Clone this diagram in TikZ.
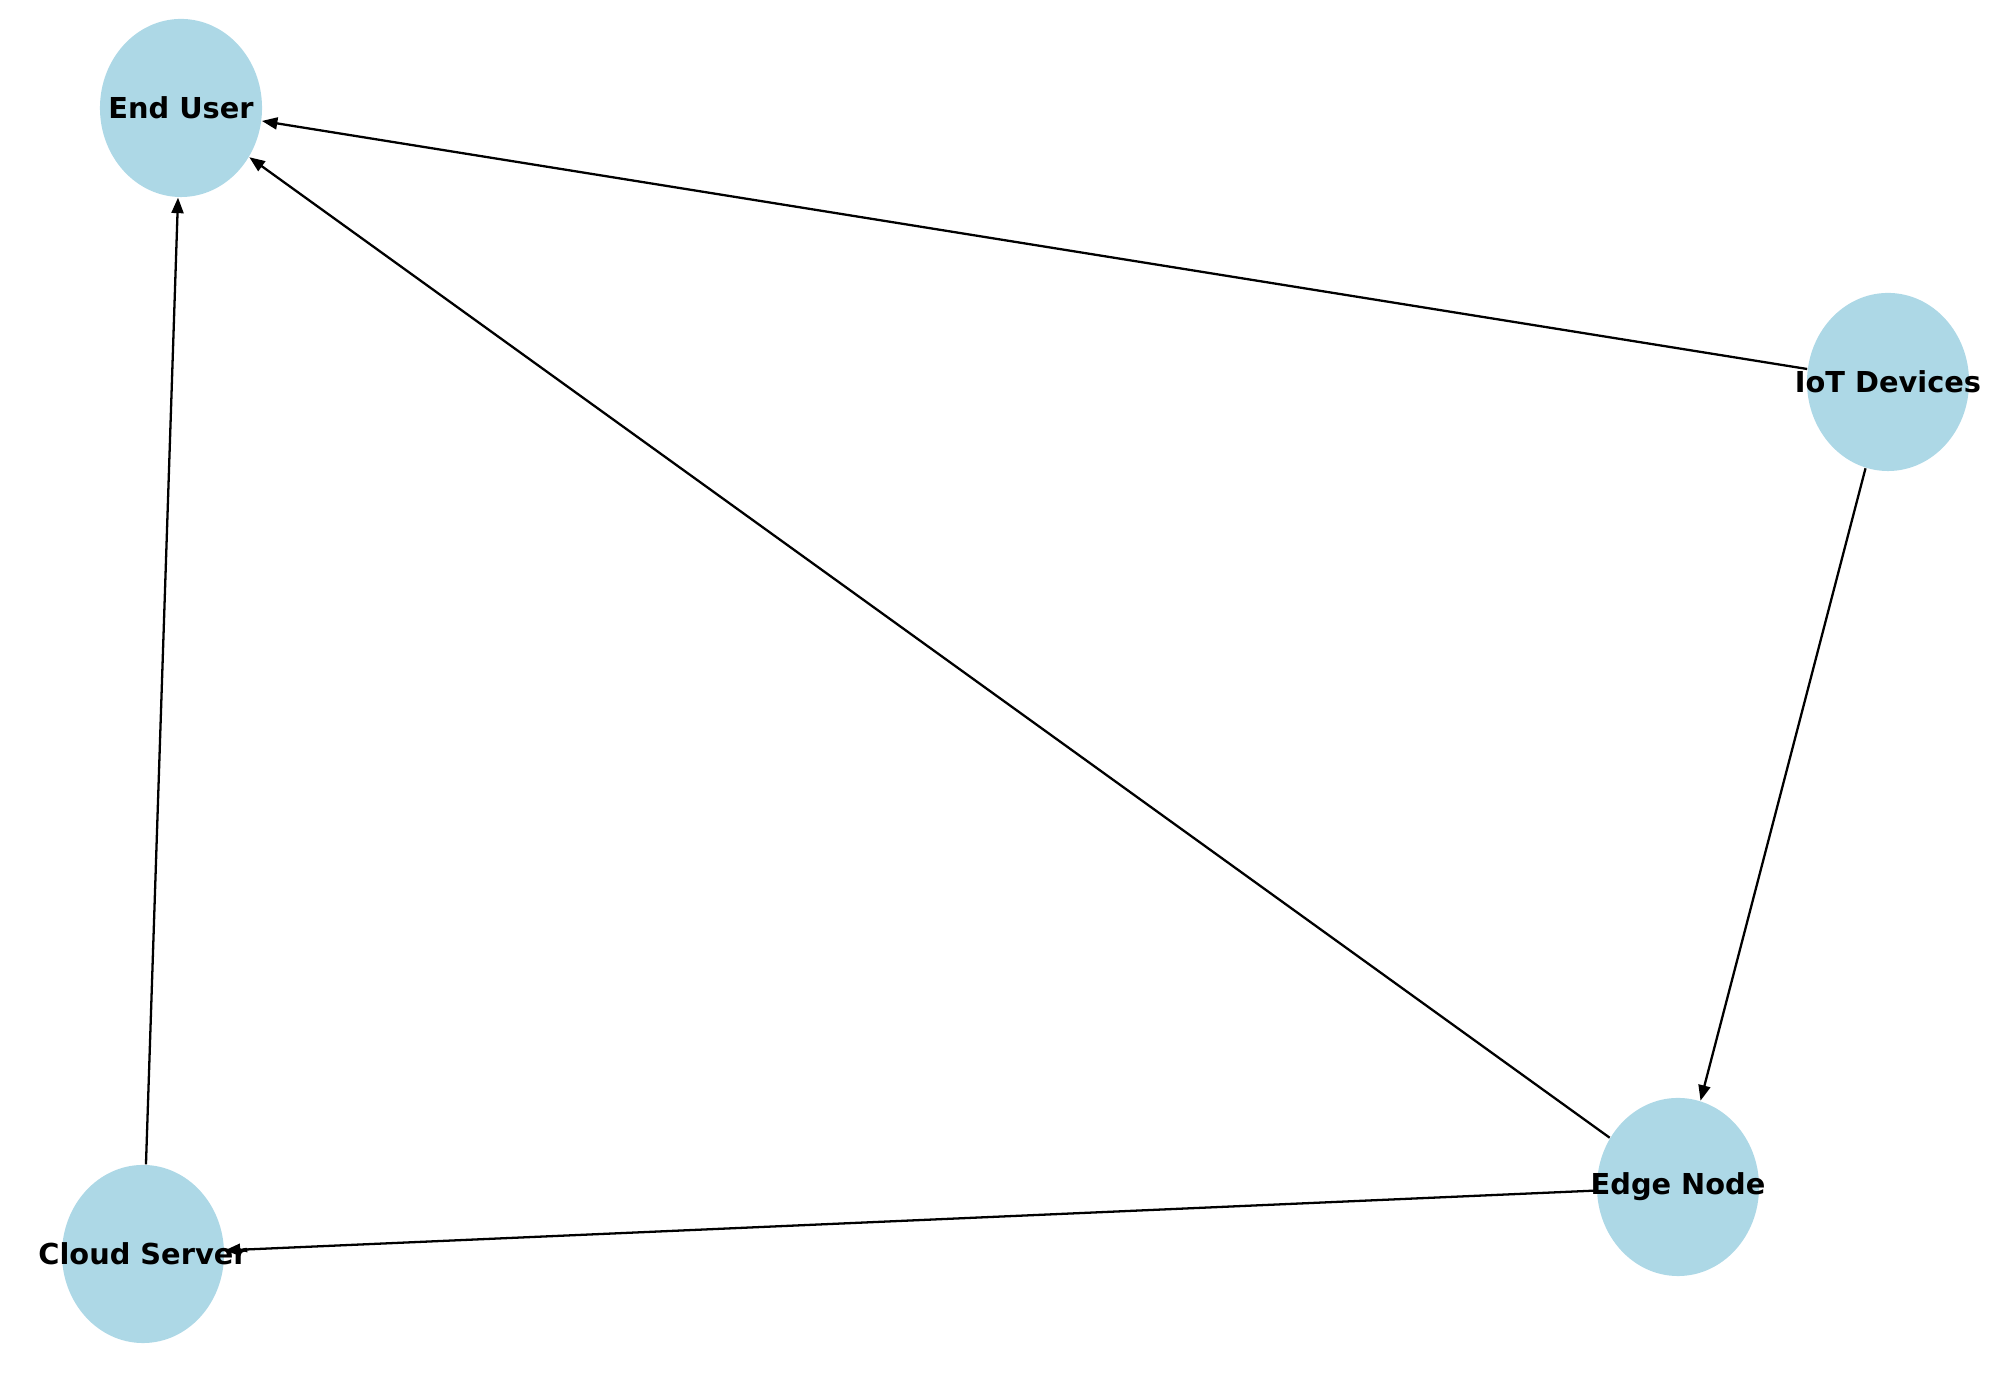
\documentclass[tikz,border=0pt]{standalone}
\usepackage{fontspec}
\setmainfont{DejaVu Sans}
\usetikzlibrary{shapes.geometric}
\usetikzlibrary{arrows.meta}

\definecolor{nodeblue}{RGB}{173,216,230}

\tikzset{
  hostbox/.style={ellipse, fill=nodeblue, draw=none, inner sep=0pt,
    minimum width=1.62cm, minimum height=1.78cm},
  hostname/.style={font=\fontsize{8.2}{10}\selectfont\bfseries, inner sep=0pt},
  flow/.style={-{Triangle[length=4.4pt,width=3.4pt]}, line width=0.65pt, black}
}

\begin{document}
\begin{tikzpicture}[x=0.01cm,y=0.01cm]
\useasboundingbox (0,0) rectangle (2013,1377);

% the four hosts
\node[hostbox] (enduser) at (181,1269) {};
\node[hostbox] (iot) at (1888,995) {};
\node[hostbox] (edge) at (1678,190) {};
\node[hostbox] (cloud) at (143,123) {};

% data flows
\draw[flow] (iot) -- (enduser);
\draw[flow] (iot) -- (edge);
\draw[flow] (edge) -- (enduser);
\draw[flow] (edge) -- (cloud);
\draw[flow] (cloud) -- (enduser);

% names on top
\node[hostname] (enduser-name) at (enduser) {End User};
\node[hostname] (iot-name) at (iot) {IoT Devices};
\node[hostname] (edge-name) at (edge) {Edge Node};
\node[hostname] (cloud-name) at (cloud) {Cloud Server};

\end{tikzpicture}
\end{document}
